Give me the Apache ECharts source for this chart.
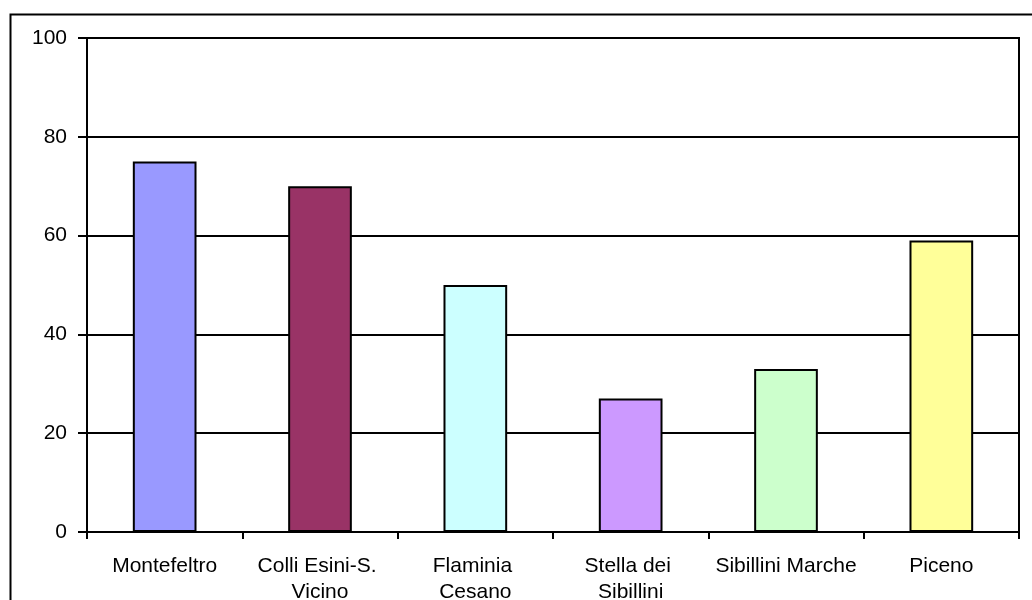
<!DOCTYPE html>
<html>
<head>
<meta charset="utf-8">
<style>
  html, body { margin: 0; padding: 0; background: #fff; }
  #chart { width: 1032px; height: 600px; }
</style>
<script src="https://cdn.jsdelivr.net/npm/echarts@6/dist/echarts.min.js"></script>
</head>
<body>
<div id="chart"></div>
<script>
// Areas and their values
const categories = ['Montefeltro', 'Colli Esini-S. Vicino', 'Flaminia Cesano', 'Stella dei Sibillini', 'Sibillini Marche', 'Piceno'];
const values = [75, 70, 50, 27, 33, 59];
const barColors = ['#9999FF', '#993366', '#CCFFFF', '#CC99FF', '#CCFFCC', '#FFFF99'];
const yTicks = { min: 0, max: 100, interval: 20 };

const chart = echarts.init(document.getElementById('chart'), null, { renderer: 'canvas' });
const font = '"Liberation Sans", Arial, sans-serif';

chart.setOption({
  animation: false,
  backgroundColor: '#fff',
  graphic: [{
    type: 'rect',
    left: 8, top: 12,
    shape: { width: 1100, height: 700 },
    style: { fill: 'none', stroke: '#000', lineWidth: 2 },
    silent: true
  }],
  grid: {
    left: 87, top: 38, right: 13, bottom: 68,
    outerBoundsMode: 'none',
    containLabel: false,
    show: true, borderColor: '#000', borderWidth: 2, backgroundColor: 'transparent'
  },
  xAxis: {
    type: 'category',
    data: categories,
    axisLine: { lineStyle: { color: '#000', width: 2 } },
    axisTick: { show: true, alignWithLabel: false, length: 7, lineStyle: { color: '#000', width: 2 } },
    axisLabel: {
      interval: 0, color: '#000', fontFamily: font, fontSize: 21,
      margin: 21, width: 146, overflow: 'break', lineHeight: 26, align: 'center'
    }
  },
  yAxis: {
    type: 'value',
    min: yTicks.min, max: yTicks.max, interval: yTicks.interval,
    axisLine: { show: true, lineStyle: { color: '#000', width: 2 } },
    axisTick: { show: true, length: 9, inside: false, lineStyle: { color: '#000', width: 2 } },
    splitLine: { show: true, lineStyle: { color: '#000', width: 2 } },
    axisLabel: { color: '#000', fontFamily: font, fontSize: 21, margin: 20 }
  },
  series: [{
    type: 'bar',
    data: values.map((v, i) => ({ value: v, itemStyle: { color: barColors[i] } })),
    barWidth: '41%',
    itemStyle: { borderColor: '#000', borderWidth: 2 }
  }]
});
</script>
</body>
</html>
